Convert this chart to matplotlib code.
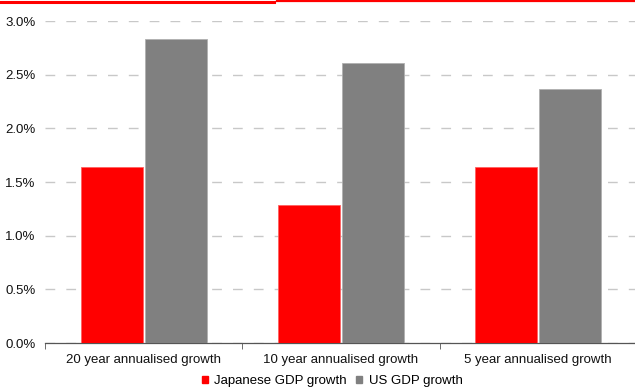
import numpy as np
import matplotlib.pyplot as plt
from matplotlib.lines import Line2D
from matplotlib.patches import Rectangle
from matplotlib.ticker import FuncFormatter, FixedLocator

plt.rcParams['font.family'] = ['Liberation Sans', 'DejaVu Sans']

categories = ["20 year annualised growth", "10 year annualised growth", "5 year annualised growth"]
japan_gdp = [1.64, 1.29, 1.64]
us_gdp = [2.83, 2.61, 2.37]
series_names = ["Japanese GDP growth", "US GDP growth"]

RED = "#ff0000"
GREY = "#808080"

fig = plt.figure(figsize=(6.35, 3.9), dpi=100)
ax = fig.add_axes([0.071, 0.1205, 0.932, 0.8255])

x = np.arange(len(categories))
w = 0.315
ax.bar(x - w / 2 - 0.005, japan_gdp, w, color=RED, edgecolor="#ff6060", linewidth=0.6, zorder=3)
ax.bar(x + w / 2 + 0.005, us_gdp, w, color=GREY, edgecolor="#b0b0b0", linewidth=0.6, zorder=3)

ax.set_xlim(-0.5, len(categories) - 0.5)
ax.set_ylim(0, 3.0)
ax.set_yticks(np.arange(0, 3.01, 0.5))
ax.yaxis.set_major_formatter(FuncFormatter(lambda v, _: f"{v:.1f}%"))
ax.grid(axis="y", color="#c8c8c8", linestyle=(0, (7, 8)), linewidth=1.0, zorder=1)

ax.set_xticks(x)
ax.set_xticklabels(categories)
ax.xaxis.set_minor_locator(FixedLocator(np.arange(-0.5, len(categories), 1.0)))
ax.tick_params(axis="x", which="major", length=0, pad=8, labelsize=9.5, labelcolor="#111111")
ax.tick_params(axis="x", which="minor", length=4, color="#555555", direction="out")
ax.tick_params(axis="y", length=0, pad=7, labelsize=9.5, labelcolor="#111111")

for side in ("top", "right", "left"):
    ax.spines[side].set_visible(False)
ax.spines["bottom"].set_color("#555555")
ax.spines["bottom"].set_linewidth(0.9)

handles = [Rectangle((0, 0), 1, 1, color=RED), Rectangle((0, 0), 1, 1, color=GREY)]
fig.legend(handles, series_names, loc="center", bbox_to_anchor=(0.523, 0.022), ncol=2,
           frameon=False, fontsize=9.5, handlelength=0.45, handleheight=0.45,
           handletextpad=0.5, columnspacing=0.7, borderaxespad=0)

# red rule along the top edge
fig.add_artist(Line2D([0, 0.432], [0.996, 0.996], transform=fig.transFigure, color=RED, linewidth=2.2))
fig.add_artist(Line2D([0.437, 1.0], [0.997, 0.997], transform=fig.transFigure, color=RED, linewidth=1.6))

fig.savefig("out.png", dpi=100)
